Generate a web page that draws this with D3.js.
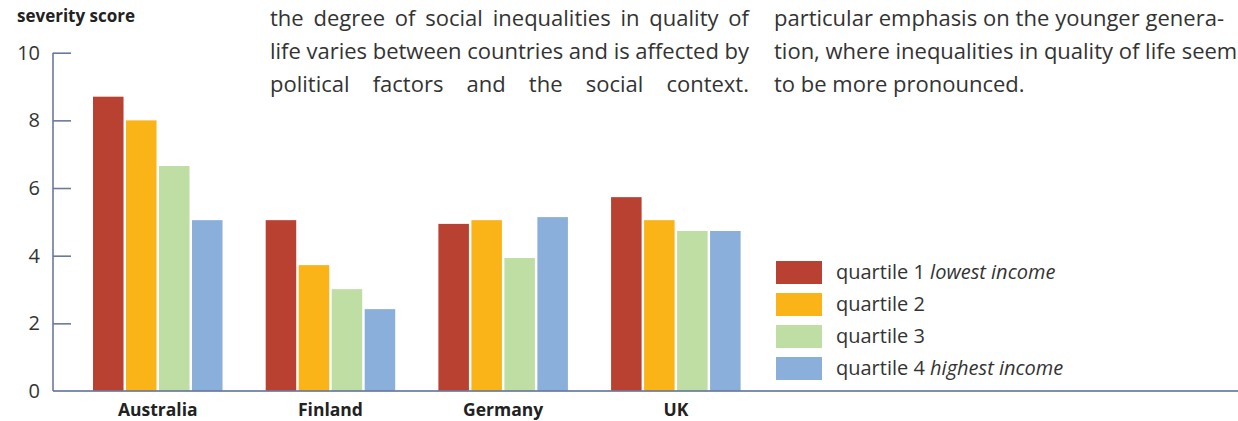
<!DOCTYPE html>
<html>
<head>
<meta charset="utf-8">
<script src="https://cdn.jsdelivr.net/npm/d3@7"></script>
<style>
  html, body { margin: 0; padding: 0; background: #fff; }
  svg { display: block; }
  .para { font-family: "Open Sans", sans-serif; font-size: 22px; fill: #333; }
</style>
</head>
<body>
<svg id="chart" width="1238" height="421"></svg>
<script>
// Data
const countries = ['Australia', 'Finland', 'Germany', 'UK'];
const quartiles = ['q1', 'q2', 'q3', 'q4'];
const q1Values = [8.7, 5.05, 4.94, 5.73];
const q2Values = [8.0, 3.72, 5.05, 5.05];
const q3Values = [6.65, 3.01, 3.93, 4.73];
const q4Values = [5.05, 2.42, 5.14, 4.73];
const yTicks = [0, 2, 4, 6, 8, 10];
const legendLabels = [
    ['quartile 1 ', 'lowest income'],
    ['quartile 2', ''],
    ['quartile 3', ''],
    ['quartile 4 ', 'highest income']
];
const colors = ['#b84131', '#fab418', '#bfdea3', '#8aafdb'];

const leftText = [
    'the degree of social inequalities in quality of',
    'life varies between countries and is affected by',
    'political factors and the social context.'
];
const rightText = [
    'particular emphasis on the younger genera-',
    'tion, where inequalities in quality of life seem',
    'to be more pronounced.'
];

const series = [q1Values, q2Values, q3Values, q4Values];
const font = '"Open Sans", sans-serif';

const svg = d3.select('#chart');
const axisColor = '#6b7a9c';

// Scales
const y = d3.scaleLinear().domain([0, 10]).range([391, 52.7]);
const x0 = d3.scaleBand().domain(countries).range([93, 740.6]).paddingInner(0.25).paddingOuter(0);
const x1 = d3.scaleBand().domain(quartiles).range([0, x0.bandwidth()]).paddingInner(0.075).paddingOuter(0);
const color = d3.scaleOrdinal().domain(quartiles).range(colors);

// Bars
const groups = svg.append('g').selectAll('g')
    .data(countries)
    .join('g')
    .attr('transform', d => `translate(${x0(d)},0)`);

groups.selectAll('rect')
    .data((c, ci) => quartiles.map((q, qi) => ({ q, v: series[qi][ci] })))
    .join('rect')
    .attr('x', d => x1(d.q))
    .attr('width', x1.bandwidth())
    .attr('y', d => y(d.v))
    .attr('height', d => y(0) - y(d.v))
    .attr('fill', d => color(d.q));

// Y axis
const yAxis = svg.append('g')
    .attr('transform', 'translate(53,0)')
    .call(d3.axisRight(y).tickValues(yTicks).tickSize(18).tickFormat(''));
yAxis.select('.domain').remove();
yAxis.selectAll('.tick line').attr('stroke', axisColor).attr('stroke-width', 1.6);
yAxis.selectAll('.tick').filter(d => d === 0).remove();

svg.append('line')
    .attr('x1', 53).attr('x2', 53)
    .attr('y1', y(10)).attr('y2', y(0))
    .attr('stroke', axisColor).attr('stroke-width', 1.6);

svg.append('line')
    .attr('x1', 53).attr('x2', 1238)
    .attr('y1', y(0)).attr('y2', y(0))
    .attr('stroke', axisColor).attr('stroke-width', 2).attr('stroke-opacity', 0.85);

svg.append('g').selectAll('text')
    .data(yTicks)
    .join('text')
    .attr('x', 40)
    .attr('y', d => y(d) + 7)
    .attr('text-anchor', 'end')
    .attr('font-family', font)
    .attr('font-size', 20)
    .attr('fill', '#333')
    .text(d => d);

// Axis title
svg.append('text')
    .attr('x', 17).attr('y', 22)
    .attr('font-family', font)
    .attr('font-weight', 'bold')
    .attr('font-size', 17)
    .attr('fill', '#222')
    .text('severity score');

// Category labels
svg.append('g').selectAll('text')
    .data(countries)
    .join('text')
    .attr('x', d => x0(d) + x0.bandwidth() / 2)
    .attr('y', 416)
    .attr('text-anchor', 'middle')
    .attr('font-family', font)
    .attr('font-weight', 'bold')
    .attr('font-size', 17.5)
    .attr('fill', '#222')
    .text(d => d);

// Legend
const legend = svg.append('g').attr('transform', 'translate(776,261)');
const items = legend.selectAll('g')
    .data(quartiles)
    .join('g')
    .attr('transform', (d, i) => `translate(0,${i * 32})`);
items.append('rect')
    .attr('width', 46).attr('height', 23)
    .attr('fill', d => color(d));
const lt = items.append('text')
    .attr('x', 60).attr('y', 18)
    .attr('font-family', font)
    .attr('font-size', 20)
    .attr('fill', '#333');
lt.append('tspan').text((d, i) => legendLabels[i][0]);
lt.append('tspan').attr('font-style', 'italic').text((d, i) => legendLabels[i][1]);

// Paragraph text (surrounding body copy)
const lines = [
    { x: 270, w: 479, t: leftText, justify: [true, true, true] },
    { x: 774, w: 450, t: rightText, justify: [true, false, false] }
];
lines.forEach(col => {
    col.t.forEach((s, i) => {
        const el = svg.append('text')
            .attr('class', 'para')
            .attr('x', col.x)
            .attr('y', 26 + i * 33)
            .text(s);
        if (col.justify[i]) {
            const words = s.split(' ');
            const natural = el.node().getComputedTextLength();
            if (words.length > 1) {
                el.attr('word-spacing', (col.w - natural) / (words.length - 1));
            }
        }
    });
});
</script>
</body>
</html>
